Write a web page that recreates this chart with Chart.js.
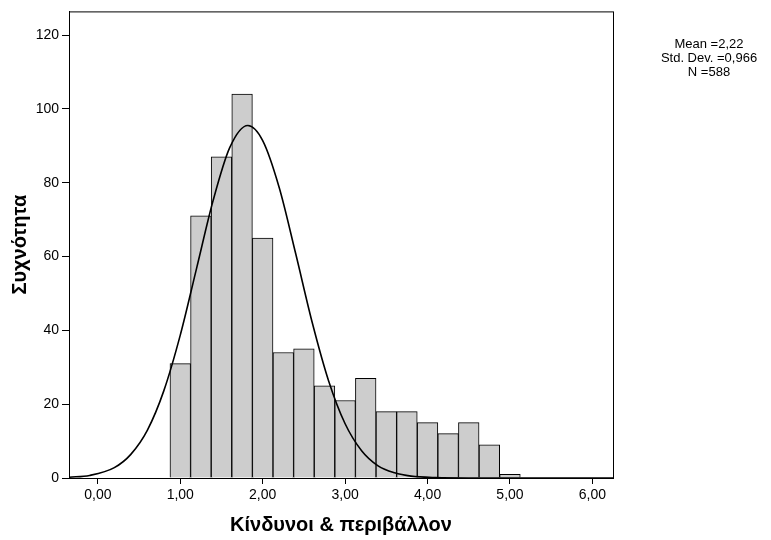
<!DOCTYPE html>
<html>
<head>
<meta charset="utf-8">
<script src="https://cdn.jsdelivr.net/npm/chart.js@4.4.1/dist/chart.umd.min.js"></script>
<style>
  html, body { margin: 0; padding: 0; background: #fff; }
  #wrap { width: 771px; height: 540px; }
</style>
</head>
<body>
<div id="wrap"><canvas id="histChart" width="771" height="540"></canvas></div>
<script>
// histogram bins (width 0.25) and frequencies
const binCenters = [1.00, 1.25, 1.50, 1.75, 2.00, 2.25, 2.50, 2.75, 3.00, 3.25, 3.50, 3.75, 4.00, 4.25, 4.50, 4.75, 5.00];
const counts = [31, 71, 87, 104, 65, 34, 35, 25, 21, 27, 18, 18, 15, 12, 15, 9, 1];

// normal curve
const curveX = [-0.35, -0.1, 0.2, 0.4, 0.6, 0.8, 1.0, 1.2, 1.4, 1.6, 1.82, 2.0, 2.2, 2.4, 2.6, 2.8, 3.0, 3.2, 3.4, 3.6, 3.8, 4.1, 4.5, 5.0, 5.5, 6.25];
const curveY = [0.2, 0.7, 2.8, 6.4, 12.9, 23.6, 38.7, 57.0, 75.3, 89.5, 95.5, 91.4, 78.7, 60.8, 42.2, 26.3, 14.7, 7.4, 3.3, 1.4, 0.5, 0.1, 0, 0, 0, 0];

const xTicks = [0, 1, 2, 3, 4, 5, 6];
const yTicks = [0, 20, 40, 60, 80, 100, 120];
const statsLines = ["Mean =2,22", "Std. Dev. =0,966", "N =588"];

const FONT = '"Liberation Sans", Arial, sans-serif';

const framePlugin = {
  id: "frame",
  afterDraw(chart) {
    const ctx = chart.ctx;
    const a = chart.chartArea;
    ctx.save();
    ctx.strokeStyle = "#000";
    ctx.lineWidth = 1;
    ctx.strokeRect(a.left + 0.5, a.top + 0.5, a.right - a.left, a.bottom - a.top);
    // stats box text
    ctx.fillStyle = "#000";
    ctx.font = "13px " + FONT;
    ctx.textAlign = "center";
    ctx.textBaseline = "middle";
    statsLines.forEach((t, i) => ctx.fillText(t, 709, 44 + i * 14));
    ctx.restore();
  },
};

new Chart(document.getElementById("histChart"), {
  data: {
    datasets: [
      {
        type: "line",
        data: curveX.map((x, i) => ({ x: x, y: curveY[i] })),
        borderColor: "#000",
        borderWidth: 1.6,
        pointRadius: 0,
        cubicInterpolationMode: "monotone",
        fill: false,
        order: 0,
      },
      {
        type: "bar",
        data: binCenters.map((x, i) => ({ x: x, y: counts[i] })),
        backgroundColor: "#cdcdcd",
        borderColor: "#000",
        borderWidth: 1,
        barPercentage: 1,
        categoryPercentage: 1,
        order: 1,
      },
    ],
  },
  options: {
    responsive: false,
    animation: false,
    layout: { padding: { left: 0, right: 158, top: 8, bottom: 3 } },
    plugins: { legend: { display: false }, tooltip: { enabled: false } },
    scales: {
      x: {
        type: "linear",
        min: -0.35,
        max: 6.25,
        offset: false,
        afterBuildTicks: (s) => { s.ticks = xTicks.map((v) => ({ value: v })); },
        afterFit: (s) => { s.height = 59; },
        grid: { display: true, offset: false, drawOnChartArea: false, drawTicks: true, tickLength: 6, color: "#000" },
        border: { display: true, color: "#000", width: 1 },
        ticks: {
          color: "#000",
          padding: 3,
          maxRotation: 0,
          font: { family: FONT, size: 14 },
          callback: (v) => v.toFixed(2).replace(".", ","),
        },
        title: {
          display: true,
          text: "Κίνδυνοι & περιβάλλον",
          color: "#000",
          font: { family: FONT, size: 20, weight: "bold" },
          padding: { top: 0, bottom: 0 },
        },
      },
      y: {
        type: "linear",
        min: 0,
        max: 126.4,
        afterBuildTicks: (s) => { s.ticks = yTicks.map((v) => ({ value: v })); },
        afterFit: (s) => { s.width = 69; },
        grid: { display: true, drawOnChartArea: false, drawTicks: true, tickLength: 7, color: "#000" },
        border: { display: true, color: "#000", width: 1 },
        ticks: {
          color: "#000",
          padding: 3,
          font: { family: FONT, size: 14 },
        },
        title: {
          display: true,
          text: "Συχνότητα",
          color: "#000",
          font: { family: FONT, size: 20, weight: "bold" },
          padding: { top: 8, bottom: 0 },
        },
      },
    },
  },
  plugins: [framePlugin],
});
</script>
</body>
</html>
